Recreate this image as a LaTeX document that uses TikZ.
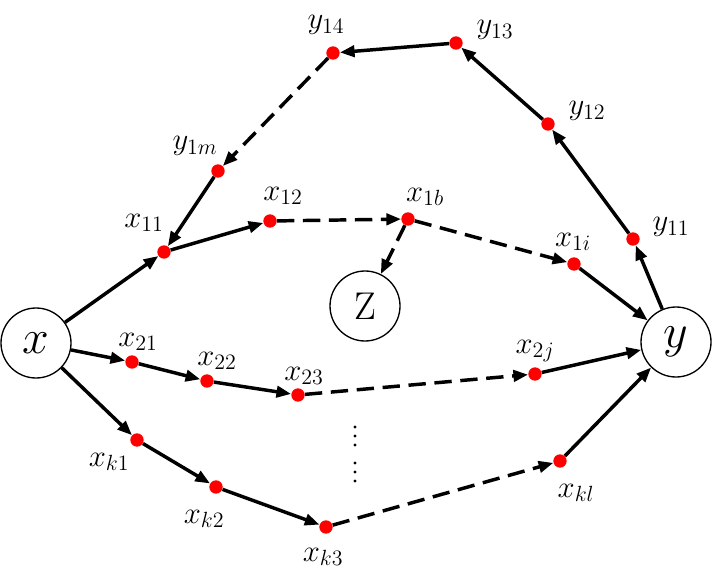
\documentclass[tikz,border=0pt]{standalone}
\usepackage{fix-cm}
\DeclareMathSizes{23}{23}{16.5}{12}
\usetikzlibrary{arrows.meta}
\begin{document}
\begin{tikzpicture}[x=0.75pt,y=-0.75pt,
  dot/.style={circle,fill=red,inner sep=0pt,minimum size=10pt},
  big/.style={circle,draw,line width=1pt,minimum size=52.5pt,inner sep=0pt},
  lab/.style={inner sep=0pt,font=\fontsize{23}{26}\selectfont},
  arr/.style={line width=2.6pt,-{Triangle[length=11pt,width=8.5pt]}},
  darr/.style={arr,dash pattern=on 13pt off 6.5pt},
]
\useasboundingbox (0,0) rectangle (712,574);
% big circles
\node[big,font=\fontsize{36}{40}\selectfont] (X) at (36,343) {$x$};
\node[big,font=\fontsize{36}{40}\selectfont] (Y) at (676,342) {$y$};
\node[big,font=\fontsize{29}{32}\selectfont] (Z) at (365,306) {Z};
% dots
\node[dot] (x11) at (164,252) {};
\node[dot] (x12) at (270,221) {};
\node[dot] (x1b) at (408,219) {};
\node[dot] (x1i) at (574,264) {};
\node[dot] (y1m) at (218,171) {};
\node[dot] (y14) at (333,53) {};
\node[dot] (y13) at (456,43) {};
\node[dot] (y12) at (548,124) {};
\node[dot] (y11) at (633,239) {};
\node[dot] (x21) at (132,362) {};
\node[dot] (x22) at (207,381) {};
\node[dot] (x23) at (298,395) {};
\node[dot] (x2j) at (535,374) {};
\node[dot] (xk1) at (137,440) {};
\node[dot] (xk2) at (216,487) {};
\node[dot] (xk3) at (326,527) {};
\node[dot] (xkl) at (560,461) {};
% labels
\node[lab] (lx11) at (144,223) {$x_{11}$};
\node[lab] (lx12) at (283,196) {$x_{12}$};
\node[lab] (lx1b) at (425,197) {$x_{1b}$};
\node[lab] (lx1i) at (573,242) {$x_{1i}$};
\node[lab] (ly1m) at (195,146) {$y_{1m}$};
\node[lab] (ly14) at (326,25) {$y_{14}$};
\node[lab] (ly13) at (495,30) {$y_{13}$};
\node[lab] (ly12) at (587,111) {$y_{12}$};
\node[lab] (ly11) at (671,227) {$y_{11}$};
\node[lab] (lx21) at (138,342) {$x_{21}$};
\node[lab] (lx22) at (217,361) {$x_{22}$};
\node[lab] (lx23) at (304,376) {$x_{23}$};
\node[lab] (lx2j) at (535,351) {$x_{2j}$};
\node[lab] (lxk1) at (109,462) {$x_{k1}$};
\node[lab] (lxk2) at (204,519) {$x_{k2}$};
\node[lab] (lxk3) at (323,557) {$x_{k3}$};
\node[lab] (lxkl) at (576,493) {$x_{kl}$};
% vertical ellipsis
\foreach \yy in {427,436,445,463,472,481} \fill (355,\yy) circle (1.7);
% path 1
\draw[arr] (X) -- (x11);
\draw[arr] (x11) -- (x12);
\draw[darr] (x12) -- (x1b);
\draw[darr] (x1b) -- (x1i);
\draw[darr] (x1b) -- (Z);
\draw[arr] (x1i) -- (Y);
% loop
\draw[arr] (Y) -- (y11);
\draw[arr] (y11) -- (y12);
\draw[arr] (y12) -- (y13);
\draw[arr] (y13) -- (y14);
\draw[darr] (y14) -- (y1m);
\draw[arr] (y1m) -- (x11);
% path 2
\draw[arr] (X) -- (x21);
\draw[arr] (x21) -- (x22);
\draw[arr] (x22) -- (x23);
\draw[darr] (x23) -- (x2j);
\draw[arr] (x2j) -- (Y);
% path k
\draw[arr] (X) -- (xk1);
\draw[arr] (xk1) -- (xk2);
\draw[arr] (xk2) -- (xk3);
\draw[darr] (xk3) -- (xkl);
\draw[arr] (xkl) -- (Y);
\end{tikzpicture}
\end{document}
